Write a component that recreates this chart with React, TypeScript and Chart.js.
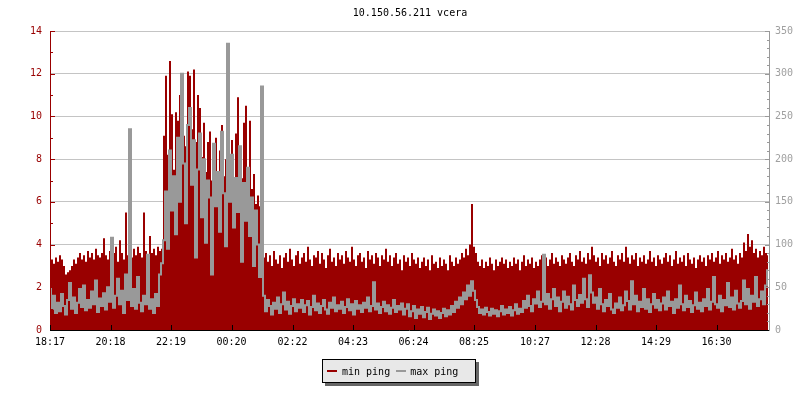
import React, { useEffect, useRef } from "react";
import { Chart, registerables } from "chart.js";

Chart.register(...registerables);

const TITLE = "10.150.56.211 vcera";
const START_TIME = "18:17";
const SAMPLE_MINUTES = 4;
const RANGE_MINUTES = 1440;

const xTickLabels = ["18:17", "20:18", "22:19", "00:20", "02:22", "04:23", "06:24", "08:25", "10:27", "12:28", "14:29", "16:30"];

const leftMax = 14;
const rightMax = 350;

// min ping (left axis)
const minPingBefore = [
  3.0, 3.3, 3.1, 3.4, 3.2, 3.5, 3.3, 3.0, 2.6, 2.7, 2.8, 3.0, 3.3, 3.1, 3.4, 3.6, 3.3, 3.5, 3.2, 3.7,
  3.4, 3.6, 3.3, 3.8, 3.5, 3.4, 3.6, 4.3, 3.5, 3.3, 3.7, 3.4, 3.6, 3.9, 3.2, 4.2, 3.6, 3.3, 5.5, 3.5,
  4.6, 3.4, 3.8, 3.5, 3.9, 3.6, 3.4, 5.5, 3.7, 3.3, 4.4, 3.6, 3.8, 3.5, 3.9, 3.7, 3.8,
];
const minPingPeak = [
  9.1, 11.9, 8.2, 12.6, 10.1, 7.5, 10.2, 9.8, 11.0, 8.1, 9.1, 8.6, 12.1, 11.9, 9.4, 12.2, 8.8, 11.0, 10.4, 8.1,
  9.7, 7.4, 8.8, 9.3, 7.0, 8.5, 9.0, 6.9, 8.4, 9.6, 7.2, 8.0, 10.2, 7.6, 8.9, 6.8, 9.2, 10.9, 8.3, 7.1,
  9.7, 10.5, 7.4, 9.8, 6.6, 7.3, 5.9, 6.3, 5.8, 7.9,
];
const minPingAfter = [
  3.4, 3.6, 3.2, 3.5, 3.0, 3.7, 3.3, 3.1, 3.5, 2.9, 3.4, 3.6, 3.2, 3.8, 3.3, 3.0, 3.5, 3.7, 3.1, 3.4,
  3.6, 3.2, 3.9, 3.3, 3.0, 3.5, 3.4, 3.7, 3.1, 3.6, 3.3, 2.9, 3.5, 3.8, 3.2, 3.4, 3.0, 3.6, 3.3, 3.5,
  3.1, 3.7, 3.4, 3.2, 3.9, 3.3, 3.0, 3.5, 3.6, 3.2, 3.4, 2.9, 3.7, 3.3, 3.5, 3.1, 3.6, 3.4, 3.0, 3.5,
  3.3, 3.8, 3.2, 3.5, 3.0, 3.4, 3.6, 3.1, 3.3, 2.8, 3.5, 3.2, 3.4, 3.0, 3.6, 3.3, 3.1, 3.4, 2.9, 3.2,
  3.4, 3.0, 3.3, 2.8, 3.5, 3.1, 3.2, 2.9, 3.4, 3.0, 3.3, 3.1, 2.8, 3.5, 3.2, 3.0, 3.4, 3.1, 3.3, 3.6,
  3.4, 3.8, 3.5, 4.0, 5.9, 3.9, 3.6, 3.2, 3.0, 3.3, 2.9, 3.2, 3.0, 3.4, 3.1, 2.8, 3.3, 3.0, 3.2, 3.4,
  3.1, 3.3, 2.9, 3.2, 3.0, 3.4, 3.1, 3.3, 2.8, 3.2, 3.5, 3.0, 3.3, 3.1, 3.4, 2.9, 3.2, 3.0, 3.3, 3.5,
  3.2, 3.4, 3.0, 3.3, 3.6, 3.1, 3.4, 3.2, 3.0, 3.5, 3.3, 3.1, 3.4, 3.6, 3.2, 3.0, 3.5, 3.3, 3.7, 3.2,
  3.4, 3.1, 3.6, 3.3, 3.9, 3.5, 3.2, 3.4, 3.0, 3.6, 3.3, 3.5, 3.1, 3.4, 3.7, 3.2, 3.0, 3.5, 3.3, 3.6,
  3.2, 3.9, 3.4, 3.1, 3.5, 3.3, 3.6, 3.0, 3.4, 3.2, 3.5, 3.1, 3.3, 3.7, 3.2, 3.4, 3.0, 3.5, 3.3, 3.1,
  3.4, 3.6, 3.2, 3.5, 3.0, 3.3, 3.7, 3.1, 3.4, 3.2, 3.5, 3.0, 3.6, 3.3, 3.1, 3.4, 2.9, 3.3, 3.5, 3.2,
  3.4, 3.0, 3.5, 3.3, 3.6, 3.2, 3.4, 3.7, 3.1, 3.5, 3.3, 3.6, 3.2, 3.4, 3.8, 3.3, 3.5, 3.1, 3.6, 3.4,
  4.1, 3.7, 4.5, 3.9, 4.2, 3.6, 3.8, 3.4, 3.7, 3.5, 3.9, 3.6, 3.5,
];

// max ping (right axis)
const maxPingBefore = [
  48, 25, 40, 20, 32, 22, 42, 28, 18, 35, 55, 25, 38, 20, 32, 48, 27, 52, 23, 35,
  26, 45, 30, 58, 21, 37, 28, 43, 24, 50, 33, 108, 26, 40, 60, 30, 46, 20, 65, 35,
  235, 28, 48, 25, 62, 32, 22, 40, 30, 88, 25, 36, 20, 42, 28, 65, 78,
];
const maxPingPeak = [
  105, 162, 95, 210, 140, 180, 112, 225, 150, 300, 195, 125, 240, 260, 170, 222, 85, 188, 230, 132,
  200, 102, 175, 155, 65, 218, 145, 185, 115, 232, 160, 98, 335, 150, 205, 120, 178, 138, 215, 80,
  172, 128, 190, 110, 155, 75, 140, 100, 62, 285,
];
const maxPingAfter = [
  40, 22, 35, 28, 18, 32, 25, 38, 20, 30, 44, 24, 33, 19, 28, 36, 22, 30, 26, 35,
  21, 29, 34, 18, 27, 40, 23, 31, 20, 28, 35, 24, 19, 32, 26, 38, 22, 29, 25, 33,
  20, 27, 36, 23, 30, 18, 34, 25, 29, 21, 32, 26, 38, 22, 28, 56, 24, 31, 20, 27,
  33, 22, 29, 19, 26, 35, 21, 28, 24, 31, 18, 25, 30, 16, 22, 28, 14, 24, 19, 27,
  15, 21, 26, 13, 19, 24, 17, 22, 14, 20, 25, 16, 23, 18, 28, 21, 33, 26, 38, 30,
  44, 36, 52, 40, 57, 46, 35, 27, 20, 24, 18, 26, 21, 17, 25, 19, 23, 16, 22, 28,
  18, 24, 20, 27, 17, 23, 30, 19, 25, 21, 34, 26, 40, 28, 22, 36, 31, 45, 27, 33,
  88, 30, 42, 25, 36, 48, 28, 38, 22, 33, 45, 26, 39, 30, 24, 52, 35, 28, 41, 32,
  60, 36, 27, 64, 44, 32, 38, 25, 48, 30, 22, 35, 28, 42, 24, 20, 31, 26, 38, 23,
  29, 45, 34, 24, 57, 30, 40, 22, 33, 27, 48, 25, 36, 21, 30, 42, 26, 35, 23, 31,
  38, 24, 45, 28, 33, 20, 36, 26, 52, 30, 23, 40, 27, 34, 21, 29, 44, 25, 32, 22,
  36, 28, 48, 24, 33, 62, 30, 26, 40, 22, 35, 29, 55, 27, 38, 24, 46, 31, 26, 34,
  58, 30, 48, 25, 40, 33, 62, 28, 36, 45, 30, 52, 70,
];

const minPing = [...minPingBefore, ...minPingPeak, ...minPingAfter];
const maxPing = [...maxPingBefore, ...maxPingPeak, ...maxPingAfter];

const RED = "#990000";
const GREY = "#999999";
const FONT = "'DejaVu Sans Mono', monospace";

function toMinutes(label: string): number {
  const [h, m] = label.split(":").map(Number);
  const [sh, sm] = START_TIME.split(":").map(Number);
  let d = h * 60 + m - (sh * 60 + sm);
  if (d < 0) d += 1440;
  return d;
}

const xTickMinutes = xTickLabels.map(toMinutes);

const innerTicks = {
  id: "innerTicks",
  afterDatasetsDraw(chart: any) {
    const { ctx, chartArea, scales } = chart;
    const { left, right, top, bottom } = chartArea;
    ctx.save();
    ctx.lineWidth = 1;
    ctx.strokeStyle = RED;
    ctx.beginPath();
    ctx.moveTo(left + 0.5, top);
    ctx.lineTo(left + 0.5, bottom);
    scales.y.ticks.forEach((t: any) => {
      const py = Math.round(scales.y.getPixelForValue(t.value)) + 0.5;
      const len = t.value % 2 === 0 ? 5 : 3;
      ctx.moveTo(left, py);
      ctx.lineTo(left + len, py);
    });
    ctx.stroke();
    ctx.strokeStyle = GREY;
    ctx.beginPath();
    ctx.moveTo(right - 0.5, top);
    ctx.lineTo(right - 0.5, bottom + 1);
    scales.y2.ticks.forEach((t: any) => {
      const py = Math.round(scales.y2.getPixelForValue(t.value)) + 0.5;
      const len = t.value % 50 === 0 ? 5 : 3;
      ctx.moveTo(right - len, py);
      ctx.lineTo(right, py);
    });
    ctx.stroke();
    ctx.strokeStyle = "#000";
    ctx.beginPath();
    ctx.moveTo(left, bottom + 0.5);
    ctx.lineTo(right - 1, bottom + 0.5);
    scales.x.ticks.forEach((t: any) => {
      const px = Math.round(scales.x.getPixelForValue(t.value)) + 0.5;
      ctx.moveTo(px, bottom);
      ctx.lineTo(px, bottom - 5);
    });
    ctx.stroke();
    ctx.restore();
  },
};

export default function App() {
  const ref = useRef<HTMLCanvasElement>(null);

  useEffect(() => {
    if (!ref.current) return;
    Chart.defaults.font.family = FONT;
    const chart = new Chart(ref.current, {
      type: "line",
      data: {
        datasets: [
          {
            label: "min ping",
            data: minPing.map((v, i) => ({ x: i * SAMPLE_MINUTES, y: v })),
            yAxisID: "y",
            borderColor: RED,
            backgroundColor: RED,
            borderWidth: 0,
            fill: "origin",
            stepped: "middle",
            pointRadius: 0,
            order: 2,
          },
          {
            label: "max ping",
            data: maxPing.map((v, i) => ({ x: i * SAMPLE_MINUTES, y: v })),
            yAxisID: "y2",
            borderColor: GREY,
            backgroundColor: GREY,
            borderWidth: 2,
            borderCapStyle: "butt",
            borderJoinStyle: "miter",
            fill: false,
            stepped: "middle",
            pointRadius: 0,
            order: 1,
          },
        ],
      },
      options: {
        animation: false,
        responsive: false,
        maintainAspectRatio: false,
        layout: { padding: 0 },
        plugins: {
          legend: { display: false },
          tooltip: { enabled: false },
          title: {
            display: true,
            fullSize: false,
            text: TITLE,
            color: "#000",
            font: { family: FONT, size: 10, weight: "normal" },
            padding: { top: 7, bottom: 12 },
          },
        },
        scales: {
          x: {
            type: "linear",
            min: 0,
            max: RANGE_MINUTES,
            afterBuildTicks: (scale: any) => {
              scale.ticks = xTickMinutes.map((v) => ({ value: v }));
            },
            afterFit: (scale: any) => {
              scale.height = 70;
            },
            grid: { display: true, drawOnChartArea: false, drawTicks: false },
            border: { display: false },
            ticks: {
              autoSkip: false,
              maxRotation: 0,
              padding: 6,
              color: "#000",
              font: { family: FONT, size: 10 },
              callback: (_v: any, i: number) => xTickLabels[i],
            },
          },
          y: {
            position: "left",
            min: 0,
            max: leftMax,
            afterFit: (scale: any) => {
              scale.width = 50;
            },
            grid: {
              drawTicks: false,
              color: (c: any) => (c.tick && c.tick.value % 2 === 0 && c.tick.value > 0 ? "#c4c4c4" : "rgba(0,0,0,0)"),
            },
            border: { display: false },
            ticks: {
              stepSize: 1,
              autoSkip: false,
              padding: 8,
              color: RED,
              font: { family: FONT, size: 10 },
              callback: (v: any) => (Number(v) % 2 === 0 ? String(v) : ""),
            },
          },
          y2: {
            position: "right",
            min: 0,
            max: rightMax,
            afterFit: (scale: any) => {
              scale.width = 30;
            },
            grid: { drawOnChartArea: false, drawTicks: false },
            border: { display: false },
            ticks: {
              stepSize: 10,
              autoSkip: false,
              padding: 5,
              color: "#a0a0a0",
              font: { family: FONT, size: 10 },
              callback: (v: any) => (Number(v) % 50 === 0 ? String(v) : ""),
            },
          },
        },
      },
      plugins: [innerTicks],
    });
    return () => chart.destroy();
  }, []);

  return (
    <div style={{ position: "fixed", left: 0, top: 0, width: 800, height: 400, background: "#fff" }}>
      <canvas ref={ref} width={800} height={400} style={{ display: "block" }} />
      <div
        style={{
          position: "absolute",
          left: 322,
          top: 359,
          width: 152,
          height: 22,
          border: "1px solid #000",
          background: "#e8e8e8",
          boxShadow: "3px 3px 0 #666",
          fontFamily: FONT,
          fontSize: 10,
          color: "#000",
          display: "flex",
          alignItems: "center",
          whiteSpace: "nowrap",
        }}
      >
        <span style={{ display: "inline-block", width: 10, height: 2, background: RED, marginLeft: 4, marginRight: 5 }} />
        <span>min ping</span>
        <span style={{ display: "inline-block", width: 10, height: 2, background: GREY, marginLeft: 6, marginRight: 4 }} />
        <span>max ping</span>
      </div>
    </div>
  );
}
